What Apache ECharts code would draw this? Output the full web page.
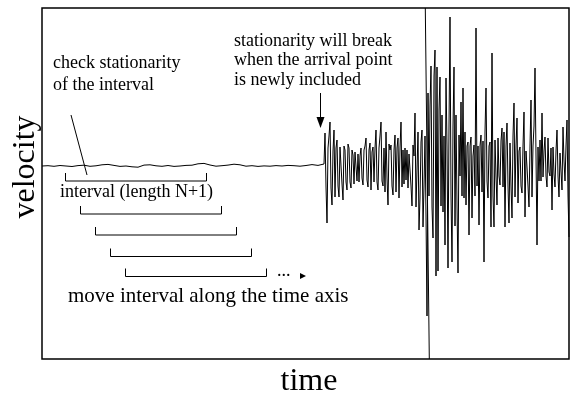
<!DOCTYPE html>
<html>
<head>
<meta charset="utf-8">
<script src="https://cdn.jsdelivr.net/npm/echarts@6/dist/echarts.min.js"></script>
<style>html,body{margin:0;padding:0;background:#fff}#c{width:570px;height:401px}</style>
</head>
<body>
<div id="c"></div>
<script>
// ---- data (time in samples, velocity in arbitrary units; zero = rest level) ----
const preStep = 6;                 // quiet part sampled every 6 time units
const preValues = [0,0.3,-0.3,0.5,0,-0.5,0.4,0.8,-0.3,0.2,1.2,1.6,0.6,-0.4,0,-0.8,-1.2,0.9,1.2,0.2,-0.3,0.5,-0.4,0,0.6,0.8,2.2,2.6,1,-0.2,0.3,0.9,1.8,1.2,-0.2,0.3,-0.4,0.1,-0.2,0.4,0,0.6,0.3,-0.2,0.5,1.4,0.6];
const eventStart = 282;            // first sample of the shaking part (step 1)
const eventValues = [
 2,33,-21,-57,18,30,44,-22,-39,15,
 36,-31,18,26,-20,-31,19,21,-18,-34,
 20,16,-16,-24,22,18,-16,-22,16,11,
 -18,14,13,-15,12,-16,10,18,-12,-19,
 16,20,28,-14,-21,16,23,-24,14,19,
 -16,18,36,-16,-24,18,30,44,-15,-20,
 18,-26,34,-12,-39,22,16,21,-20,-29,
 16,31,-26,18,28,-32,18,44,-21,16,
 -18,18,-14,16,-22,12,14,-20,-40,21,
 10,53,-41,-39,34,-64,-32,24,36,-61,
 -20,30,-50,-150,73,-30,60,100,-41,-72,
 90,116,-110,99,-105,56,89,-40,51,-46,
 30,-79,88,20,-102,40,149,-30,-96,40,
 99,-60,51,-40,-107,31,-10,64,-30,78,
 -32,34,-39,20,24,-69,20,29,-52,10,
 21,-30,138,-20,20,-59,20,31,-26,25,
 -96,34,78,-15,-32,20,24,-61,113,-30,
 -61,26,-10,-39,28,-10,-19,25,38,-21,
 34,-61,20,43,-20,-57,23,-20,-52,30,
 63,-31,20,48,-37,15,19,-20,-27,20,
 54,-51,15,-1,-20,-41,20,66,-31,20,
 40,98,10,-79,19,-15,26,-15,53,-11,
 15,29,-10,-21,28,-6,-10,18,-44,19,
 -8,-21,15,36,-10,-31,13,-5,-24,39,
 5,-15,20,46,-30,-71
];
const timeRange = [0, 527];
const velocityRange = [-193, 158];
const offScaleSwing = [383.3, 387.3];   // huge swing that runs off the top and bottom

const texts = {
  yName: 'velocity',
  xName: 'time',
  check: ['check stationarity', 'of the interval'],
  brk: ['stationarity will break', 'when the arrival point', 'is newly included'],
  interval: 'interval (length N+1)',
  move: 'move interval along the time axis'
};

// ---- build series data ----
const trace = preValues.map((v, i) => [i * preStep, v])
  .concat(eventValues.map((v, i) => [eventStart + i, v]));

const SERIF = '"Liberation Serif","Times New Roman",serif';
const chart = echarts.init(document.getElementById('c'), null, {renderer: 'canvas', width: 570, height: 401});

const G = {left: 42, top: 8, width: 527, height: 351};
const graphics = [];
function txt(s, x, y, size) {
  graphics.push({type: 'text', x: x, y: y, silent: true,
    style: {text: s, font: size + 'px ' + SERIF, fill: '#000', align: 'left', verticalAlign: 'middle'}});
}
// axis names
graphics.push({type: 'text', x: 26, y: 167, rotation: Math.PI / 2, silent: true,
  style: {text: texts.yName, font: '32px ' + SERIF, fill: '#000', align: 'center', verticalAlign: 'middle'}});
graphics.push({type: 'text', x: 309, y: 382, silent: true,
  style: {text: texts.xName, font: '32px ' + SERIF, fill: '#000', align: 'center', verticalAlign: 'middle'}});
// annotations
txt(texts.check[0], 53, 63, 18);
txt(texts.check[1], 53, 85, 18);
txt(texts.brk[0], 234, 41, 18);
txt(texts.brk[1], 234, 60.5, 18);
txt(texts.brk[2], 234, 80, 18);
txt(texts.interval, 60, 192, 18);
txt(texts.move, 68, 296, 21);
txt('...', 277, 271.5, 18);
// pointer line for "check stationarity"
graphics.push({type: 'line', silent: true, shape: {x1: 71, y1: 115, x2: 87, y2: 175}, style: {stroke: '#000', lineWidth: 1}});
// brackets (intervals)
const brY = [181, 214, 235, 256.5, 276.5];
brY.forEach((y, k) => {
  const x1 = 65.5 + 15 * k, x2 = x1 + 141;
  graphics.push({type: 'polyline', silent: true,
    shape: {points: [[x1, y - 8], [x1, y], [x2, y], [x2, y - 8]]},
    style: {stroke: '#000', lineWidth: 1, fill: null}});
});
// small arrow after the dots
graphics.push({type: 'polygon', silent: true, shape: {points: [[300, 273], [306, 276], [300, 279]]}, style: {fill: '#000'}});
// arrival arrow
graphics.push({type: 'line', silent: true, shape: {x1: 320.5, y1: 93, x2: 320.5, y2: 118}, style: {stroke: '#000', lineWidth: 1}});
graphics.push({type: 'polygon', silent: true, shape: {points: [[316.5, 117], [324.5, 117], [320.5, 128]]}, style: {fill: '#000'}});

chart.setOption({
  animation: false,
  backgroundColor: '#fff',
  grid: Object.assign({show: true, borderColor: '#000', borderWidth: 1.5, backgroundColor: 'transparent'}, G),
  xAxis: {type: 'value', min: timeRange[0], max: timeRange[1], show: false},
  yAxis: {type: 'value', min: velocityRange[0], max: velocityRange[1], show: false},
  series: [{
    type: 'line', data: trace, showSymbol: false, symbol: 'none', clip: true,
    lineStyle: {color: '#000', width: 1},
    markLine: {
      silent: true, symbol: ['none', 'none'], label: {show: false},
      lineStyle: {color: '#000', width: 1, type: 'solid'},
      data: [[{coord: [offScaleSwing[0], velocityRange[1]]}, {coord: [offScaleSwing[1], velocityRange[0]]}]]
    }
  }],
  graphic: graphics
});
</script>
</body>
</html>
